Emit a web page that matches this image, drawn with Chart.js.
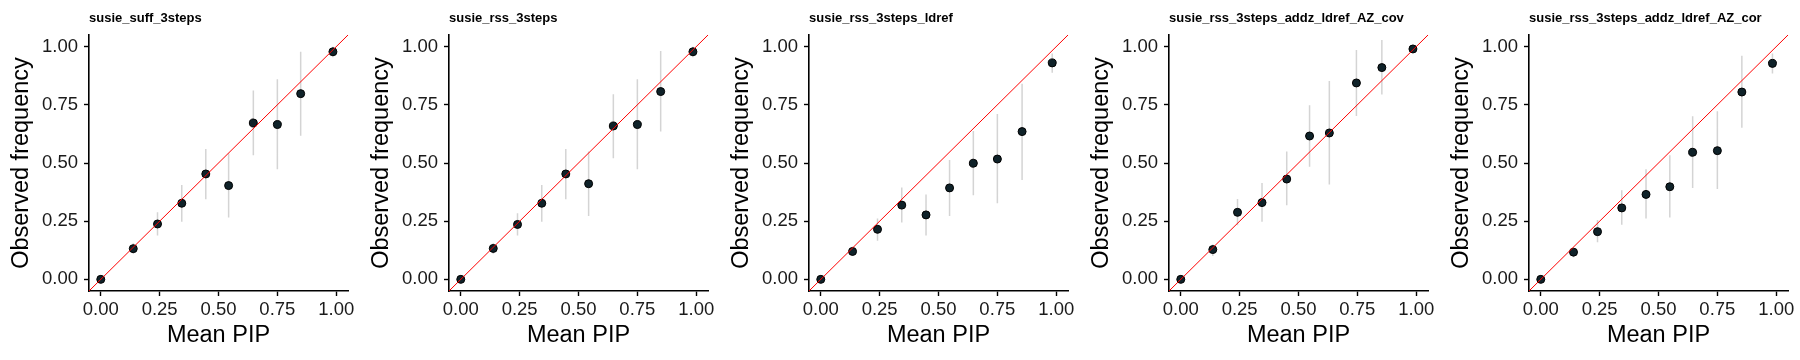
<!DOCTYPE html>
<html>
<head>
<meta charset="utf-8">
<script src="https://cdn.jsdelivr.net/npm/chart.js@4/dist/chart.umd.min.js"></script>
<style>
  body { margin: 0; background: #fff; }
  .fila { display: flex; width: 1800px; height: 360px; }
  .panel { width: 360px; height: 360px; }
</style>
</head>
<body>
<div class="fila">
  <div class="panel"><canvas id="c0" width="360" height="360"></canvas></div>
  <div class="panel"><canvas id="c1" width="360" height="360"></canvas></div>
  <div class="panel"><canvas id="c2" width="360" height="360"></canvas></div>
  <div class="panel"><canvas id="c3" width="360" height="360"></canvas></div>
  <div class="panel"><canvas id="c4" width="360" height="360"></canvas></div>
</div>
<script>
// titulos de cada panel
const panelTitles = [
    "susie_suff_3steps",
    "susie_rss_3steps",
    "susie_rss_3steps_ldref",
    "susie_rss_3steps_addz_ldref_AZ_cov",
    "susie_rss_3steps_addz_ldref_AZ_cor"
];

const meanPip = [
    [0, 0.138, 0.241, 0.344, 0.446, 0.543, 0.648, 0.750, 0.849, 0.986],
    [0, 0.138, 0.241, 0.344, 0.446, 0.543, 0.648, 0.750, 0.849, 0.986],
    [0, 0.135, 0.241, 0.344, 0.447, 0.547, 0.648, 0.750, 0.855, 0.983],
    [0, 0.136, 0.241, 0.345, 0.450, 0.547, 0.631, 0.746, 0.854, 0.986],
    [0, 0.139, 0.241, 0.344, 0.447, 0.548, 0.645, 0.750, 0.854, 0.984]
];
const obsFreq = [
    [0, 0.132, 0.238, 0.327, 0.453, 0.403, 0.672, 0.665, 0.798, 0.978],
    [0, 0.133, 0.236, 0.327, 0.453, 0.411, 0.659, 0.665, 0.807, 0.978],
    [0, 0.120, 0.215, 0.319, 0.277, 0.393, 0.499, 0.517, 0.635, 0.930],
    [0, 0.128, 0.288, 0.330, 0.431, 0.616, 0.629, 0.844, 0.910, 0.990],
    [0, 0.117, 0.205, 0.307, 0.365, 0.398, 0.546, 0.553, 0.805, 0.928]
];
const ciLower = [
    [0, 0.110, 0.188, 0.248, 0.344, 0.266, 0.533, 0.473, 0.617, 0.954],
    [0, 0.110, 0.188, 0.248, 0.344, 0.272, 0.520, 0.473, 0.635, 0.954],
    [0, 0.100, 0.166, 0.244, 0.189, 0.272, 0.361, 0.327, 0.427, 0.888],
    [0, 0.100, 0.232, 0.248, 0.318, 0.484, 0.408, 0.702, 0.794, 0.975],
    [0, 0.095, 0.159, 0.235, 0.262, 0.266, 0.393, 0.388, 0.652, 0.885]
];
const ciUpper = [
    [0, 0.155, 0.288, 0.405, 0.560, 0.542, 0.812, 0.860, 0.978, 1.000],
    [0, 0.155, 0.284, 0.405, 0.560, 0.549, 0.795, 0.860, 0.981, 1.000],
    [0, 0.140, 0.262, 0.395, 0.365, 0.513, 0.638, 0.711, 0.840, 0.971],
    [0, 0.150, 0.345, 0.414, 0.549, 0.748, 0.852, 0.986, 1.029, 1.000],
    [0, 0.135, 0.255, 0.383, 0.473, 0.533, 0.701, 0.722, 0.961, 0.971]
];

const tickValues = [0, 0.25, 0.5, 0.75, 1];
const axisMin = -0.05;
const axisMax = 1.05;

const fuente = "'Liberation Sans', Arial, Helvetica, sans-serif";

function crearEje(titulo, esY) {
    return {
        type: "linear",
        min: axisMin,
        max: axisMax,
        afterBuildTicks: (scale) => {
            scale.ticks = tickValues.map((v) => ({ value: v }));
        },
        afterFit: (scale) => {
            if (esY) {
                scale.width = 89;
            } else {
                scale.height = 69;
            }
        },
        border: { display: true, color: "#000", width: 1.6 },
        grid: {
            display: true,
            drawOnChartArea: false,
            drawTicks: true,
            tickLength: 5,
            tickColor: "#000",
            tickWidth: 1.4
        },
        ticks: {
            color: "#1a1a1a",
            padding: esY ? 6 : 3,
            font: { family: fuente, size: 18.5 },
            callback: (v) => Number(v).toFixed(2)
        },
        title: {
            display: true,
            text: titulo,
            color: "#000",
            font: { family: fuente, size: 23.5 },
            padding: esY ? { top: 7, bottom: 0 } : { top: 0, bottom: 10 }
        }
    };
}

function crearPanel(i) {
    // barras de error: segmentos separados por un punto nulo
    const barras = [];
    meanPip[i].forEach((x, k) => {
        barras.push({ x: x, y: ciLower[i][k] });
        barras.push({ x: x, y: ciUpper[i][k] });
        barras.push({ x: x, y: null });
    });

    const puntos = meanPip[i].map((x, k) => ({ x: x, y: obsFreq[i][k] }));

    const datasets = [
        {
            // linea identidad y = x
            type: "line",
            data: [{ x: axisMin, y: axisMin }, { x: axisMax, y: axisMax }],
            borderColor: "#ff0000",
            borderWidth: 1,
            pointRadius: 0,
            fill: false
        },
        {
            type: "scatter",
            data: puntos,
            backgroundColor: "#0f2229",
            borderColor: "#000",
            borderWidth: 1,
            pointRadius: 4
        },
        {
            type: "line",
            data: barras,
            borderColor: "#d4d4d4",
            borderWidth: 1.5,
            pointRadius: 0,
            spanGaps: false,
            fill: false
        }
    ];

    const config = {
        type: "scatter",
        data: { datasets },
        options: {
            responsive: false,
            animation: false,
            devicePixelRatio: 1,
            layout: { padding: { top: 0, right: 12, bottom: 0, left: 0 } },
            plugins: {
                legend: { display: false },
                tooltip: { enabled: false },
                title: {
                    display: true,
                    text: panelTitles[i],
                    align: "start",
                    fullSize: false,
                    color: "#000",
                    font: { family: fuente, size: 13, weight: "bold" },
                    padding: { top: 11, bottom: 8.4 }
                }
            },
            scales: {
                x: crearEje("Mean PIP", false),
                y: crearEje("Observed frequency", true)
            }
        }
    };

    new Chart(document.getElementById("c" + i), config);
}

for (let i = 0; i < panelTitles.length; i++) {
    crearPanel(i);
}
</script>
</body>
</html>
